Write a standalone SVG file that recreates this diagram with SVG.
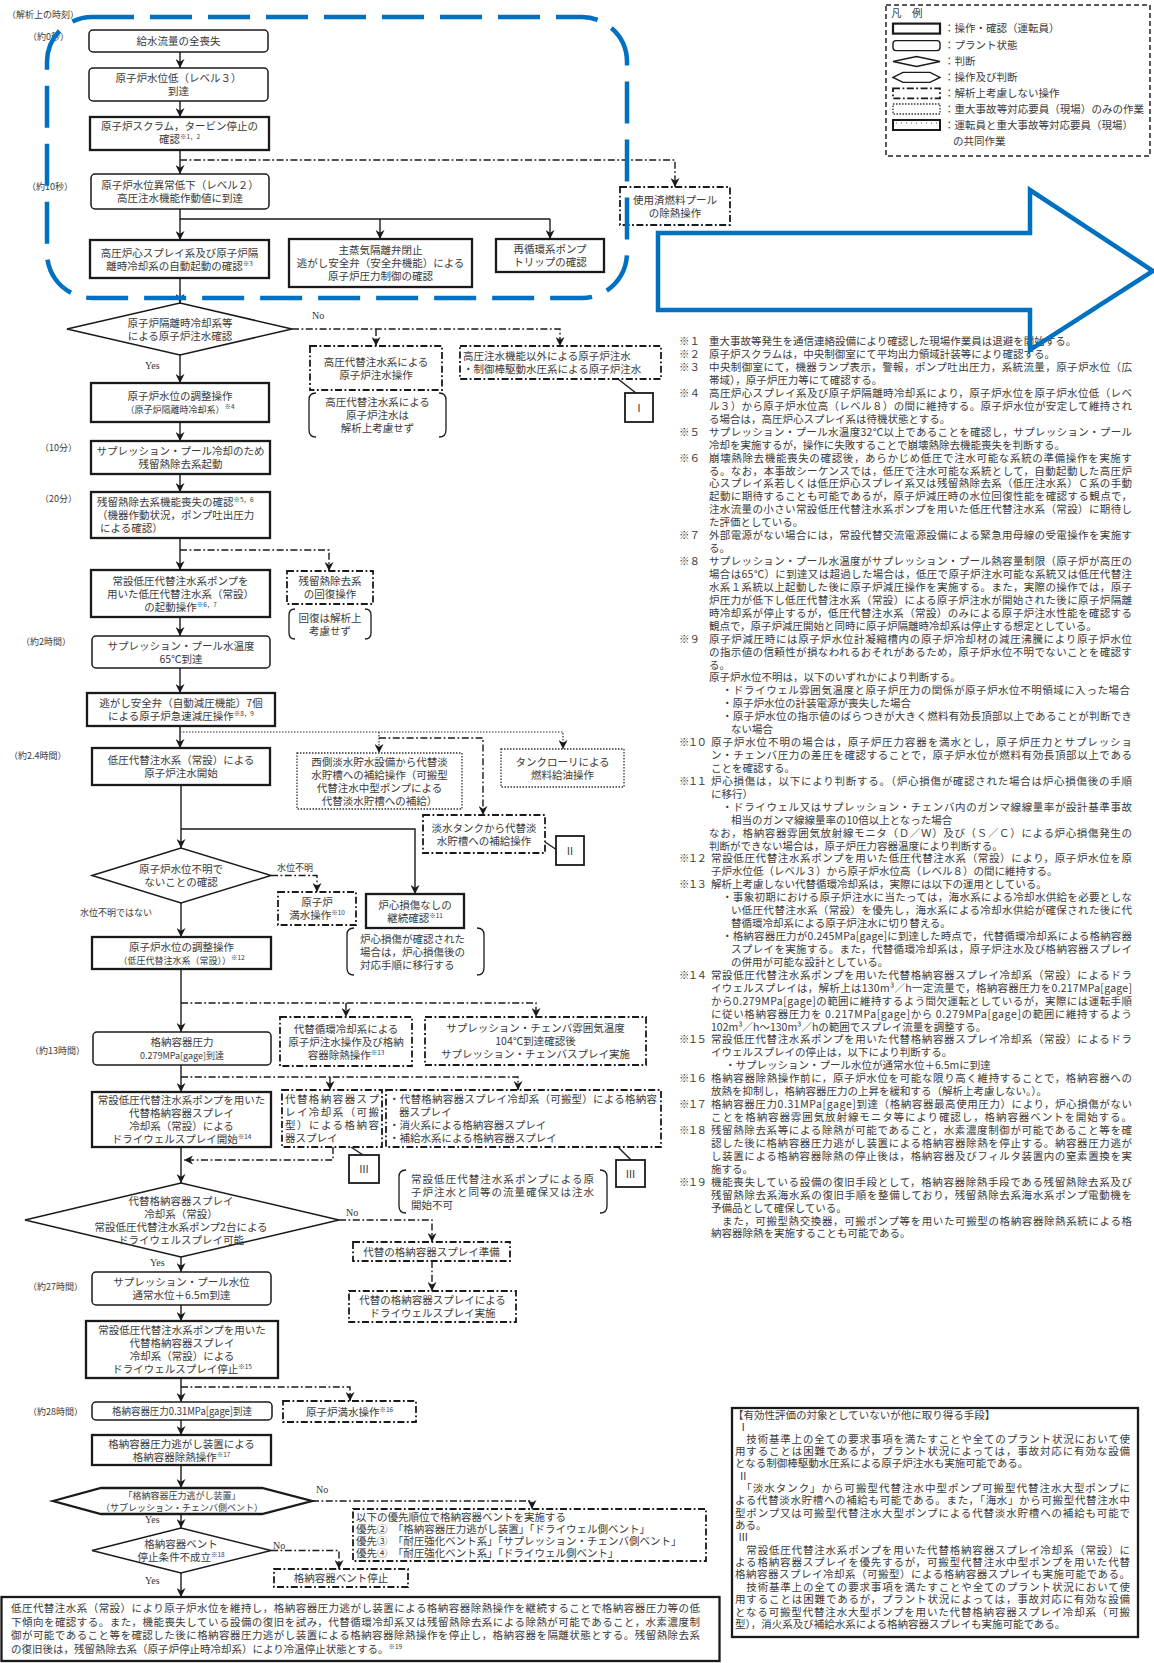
<svg xmlns="http://www.w3.org/2000/svg" width="1154" height="1663" viewBox="0 0 1154 1663">
<defs>
<style>
.t{font-family:"Noto Sans CJK JP","Noto Sans",sans-serif;font-size:10.5px;fill:#3a3a3a}
.c{text-anchor:middle}
.sm{font-size:9px}
.sup{font-size:6.5px}
.yn{font-family:"Liberation Serif",serif;font-size:10px;fill:#333}
.op{fill:#fff;stroke:#1a1a1a;stroke-width:2.3}
.ps{fill:#fff;stroke:#1a1a1a;stroke-width:1.5}
.dd{fill:#fff;stroke:#1a1a1a;stroke-width:1.8;stroke-dasharray:7 2.5 1.8 2.5}
.dt{fill:#fff;stroke:#333;stroke-width:1.3;stroke-dasharray:1.5 1.5}
.bk{fill:none;stroke:#1a1a1a;stroke-width:1.3}
.ln{fill:none;stroke:#1a1a1a;stroke-width:1.4}
.ldd{fill:none;stroke:#1a1a1a;stroke-width:1.4;stroke-dasharray:7 2.5 1.8 2.5}
.ldt{fill:none;stroke:#333;stroke-width:1.2;stroke-dasharray:1.5 1.5}
.blue{fill:none;stroke:#0070c0;stroke-width:4.5}
</style>
<marker id="ah" viewBox="0 0 10 10" refX="10" refY="5" markerWidth="9" markerHeight="9" markerUnits="userSpaceOnUse" orient="auto"><path d="M0,0 L10,5 L0,10 L3,5 z" fill="#1a1a1a"/></marker>
</defs>
<rect width="1154" height="1663" fill="#fff"/>

<g id="time-labels">
<text x="7" y="18" class="t sm">（解析上の時刻）</text>
<text x="28" y="40" class="t sm">（約0秒）</text>
<text x="27" y="190" class="t sm">（約10秒）</text>
<text x="40" y="451" class="t sm">（10分）</text>
<text x="40" y="502" class="t sm">（20分）</text>
<text x="21" y="645" class="t sm">（約2時間）</text>
<text x="9" y="759" class="t sm">（約2.4時間）</text>
<text x="30" y="1054" class="t sm">（約13時間）</text>
<text x="28" y="1290" class="t sm">（約27時間）</text>
<text x="28" y="1415" class="t sm">（約28時間）</text>
</g>

<g id="connectors">
<path class="ln" d="M180,52 V68" marker-end="url(#ah)"/>
<path class="ln" d="M180,101 V117" marker-end="url(#ah)"/>
<path class="ln" d="M180,150 V174" marker-end="url(#ah)"/>
<path class="ldd" d="M180,160 H675 V187" marker-end="url(#ah)"/>
<path class="ln" d="M180,209 V219 H550"/>
<path class="ln" d="M180,219 V240" marker-end="url(#ah)"/>
<path class="ln" d="M380,219 V239" marker-end="url(#ah)"/>
<path class="ln" d="M550,219 V239" marker-end="url(#ah)"/>
<path class="ln" d="M180,278 V303" marker-end="url(#ah)"/>
<path class="ldd" d="M292,329 H560 V346" marker-end="url(#ah)"/>
<path class="ldd" d="M376,329 V346" marker-end="url(#ah)"/>
<path class="ln" d="M618,379 L636,393"/>
<path class="ln" d="M180,355 V383" marker-end="url(#ah)"/>
<path class="ln" d="M180,422 V441" marker-end="url(#ah)"/>
<path class="ln" d="M180,474 V492" marker-end="url(#ah)"/>
<path class="ln" d="M180,538 V570" marker-end="url(#ah)"/>
<path class="ldd" d="M180,550 H329 V571" marker-end="url(#ah)"/>
<path class="ln" d="M180,617 V636" marker-end="url(#ah)"/>
<path class="ln" d="M180,668 V693" marker-end="url(#ah)"/>
<path class="ln" d="M180,726 V748" marker-end="url(#ah)"/>
<path class="ldt" d="M180,732 H563 V749" marker-end="url(#ah)"/>
<path class="ldt" d="M379,732 V753" marker-end="url(#ah)"/>
<path class="ldd" d="M379,738 H483 V815" marker-end="url(#ah)"/>
<path class="ln" d="M545,842 L557,850"/>
<path class="ln" d="M181,785 V848" marker-end="url(#ah)"/>
<path class="ln" d="M181,829 H415 V894" marker-end="url(#ah)"/>
<path class="ldd" d="M271,875.5 H317 V892" marker-end="url(#ah)"/>
<path class="ln" d="M181,903 V937" marker-end="url(#ah)"/>
<path class="ln" d="M181,969 V1032" marker-end="url(#ah)"/>
<path class="ldd" d="M181,1003 H536 V1017" marker-end="url(#ah)"/>
<path class="ldd" d="M346,1003 V1017" marker-end="url(#ah)"/>
<path class="ln" d="M181,1065 V1092" marker-end="url(#ah)"/>
<path class="ldd" d="M181,1077 H518 V1090" marker-end="url(#ah)"/>
<path class="ldd" d="M330,1077 V1090" marker-end="url(#ah)"/>
<path class="ldd" d="M333,1147 V1160 H184" marker-end="url(#ah)"/>
<path class="ln" d="M351,1147 L363,1155"/>
<path class="ln" d="M618,1147 L631,1160"/>
<path class="ln" d="M181,1147 V1183" marker-end="url(#ah)"/>
<path class="ldd" d="M339,1220 H432 V1242" marker-end="url(#ah)"/>
<path class="ldd" d="M432,1261 V1291" marker-end="url(#ah)"/>
<path class="ln" d="M181,1257 V1272" marker-end="url(#ah)"/>
<path class="ln" d="M181,1305 V1321" marker-end="url(#ah)"/>
<path class="ln" d="M181,1378 V1402" marker-end="url(#ah)"/>
<path class="ldd" d="M181,1387 H350 V1401" marker-end="url(#ah)"/>
<path class="ln" d="M181,1420 V1435" marker-end="url(#ah)"/>
<path class="ln" d="M181,1465 V1488" marker-end="url(#ah)"/>
<path class="ldd" d="M312,1501 H532 V1509" marker-end="url(#ah)"/>
<path class="ln" d="M181,1514 V1528" marker-end="url(#ah)"/>
<path class="ldd" d="M271,1550.5 H339 V1569" marker-end="url(#ah)"/>
<path class="ln" d="M181,1573 V1597" marker-end="url(#ah)"/>
</g>

<g id="yes-no">
<text class="yn" x="312" y="319">No</text>
<text class="yn" x="145" y="369">Yes</text>
<text class="t sm" x="277" y="871">水位不明</text>
<text class="t sm" x="80" y="916">水位不明ではない</text>
<text class="yn" x="346" y="1216">No</text>
<text class="yn" x="150" y="1266">Yes</text>
<text class="yn" x="316" y="1493">No</text>
<text class="yn" x="145" y="1523">Yes</text>
<text class="yn" x="273" y="1549">No</text>
<text class="yn" x="145" y="1584">Yes</text>
</g>

<g id="n1"><rect class="ps" x="89" y="30" width="179" height="22" rx="4"/><text class="t c" x="178.5" y="45">給水流量の全喪失</text></g>
<g id="n2"><rect class="ps" x="89" y="68" width="179" height="33" rx="4"/><text class="t c" x="178.5" y="82">原子炉水位低（レベル３）</text><text class="t c" x="178.5" y="95">到達</text></g>
<g id="n3"><rect class="op" x="90" y="117" width="179" height="33"/><text class="t c" x="179.5" y="130">原子炉スクラム，タービン停止の</text><text class="t c" x="179.5" y="143">確認<tspan class="sup" dy="-4">※1，2</tspan></text></g>
<g id="n-sfp"><rect class="dd" x="620" y="187" width="110" height="38"/><text class="t c" x="675" y="203.5">使用済燃料プール</text><text class="t c" x="675" y="216.5">の除熱操作</text></g>
<g id="n4"><rect class="ps" x="91" y="174" width="178" height="35" rx="4"/><text class="t c" x="180" y="189">原子炉水位異常低下（レベル２）</text><text class="t c" x="180" y="202">高圧注水機能作動値に到達</text></g>
<g id="n5"><rect class="op" x="90" y="240" width="179" height="38"/><text class="t c" x="179.5" y="256.5">高圧炉心スプレイ系及び原子炉隔</text><text class="t c" x="179.5" y="269.5">離時冷却系の自動起動の確認<tspan class="sup" dy="-4">※3</tspan></text></g>
<g id="n6"><rect class="op" x="289" y="239" width="183" height="48"/><text class="t c" x="380.5" y="254">主蒸気隔離弁閉止</text><text class="t c" x="380.5" y="267">逃がし安全弁（安全弁機能）による</text><text class="t c" x="380.5" y="280">原子炉圧力制御の確認</text></g>
<g id="n7"><rect class="op" x="496" y="239" width="108" height="33"/><text class="t c" x="550" y="253">再循環系ポンプ</text><text class="t c" x="550" y="266">トリップの確認</text></g>

<g id="d1"><polygon class="ps" points="67,329 180,303 292,329 180,355"/><text class="t c" x="180" y="326.5">原子炉隔離時冷却系等</text><text class="t c" x="180" y="339.5">による原子炉注水確認</text></g>
<g id="n8"><rect class="dd" x="310" y="346" width="132" height="44"/><text class="t c" x="376" y="365.5">高圧代替注水系による</text><text class="t c" x="376" y="378.5">原子炉注水操作</text></g>
<g id="b1"><path class="bk" d="M316,393 Q309,393 309,400 V430 Q309,437 316,437"/><path class="bk" d="M439,393 Q446,393 446,400 V430 Q446,437 439,437"/><text class="t c" x="377.5" y="406">高圧代替注水系による</text><text class="t c" x="377.5" y="419">原子炉注水は</text><text class="t c" x="377.5" y="432">解析上考慮せず</text></g>
<g id="n9"><rect class="dd" x="460" y="346" width="201" height="33"/><text class="t" x="463" y="360">高圧注水機能以外による原子炉注水</text><text class="t" x="463" y="373">・制御棒駆動水圧系による原子炉注水</text></g>
<g id="r1"><rect fill="#fff" stroke="#1a1a1a" stroke-width="1.8" x="625" y="393" width="28" height="29"/><text class="t c" x="639" y="411.5">Ⅰ</text></g>
<g id="n10"><rect class="op" x="91" y="383" width="178" height="39"/><text class="t c" x="180" y="400">原子炉水位の調整操作</text><text class="t c sm" x="180" y="413">（原子炉隔離時冷却系）<tspan class="sup" dy="-4">※4</tspan></text></g>
<g id="n11"><rect class="op" x="91" y="441" width="179" height="33"/><text class="t c" x="180.5" y="455">サプレッション・プール冷却のため</text><text class="t c" x="180.5" y="468">残留熱除去系起動</text></g>
<g id="n12"><rect class="op" x="91" y="492" width="179" height="46"/><text class="t" x="97" y="506">残留熱除去系機能喪失の確認<tspan class="sup" dy="-4">※5，6</tspan></text><text class="t" x="97" y="519">（機器作動状況，ポンプ吐出圧力</text><text class="t" x="100" y="532">による確認）</text></g>
<g id="n13"><rect class="op" x="91" y="570" width="179" height="47"/><text class="t c" x="180.5" y="584.5">常設低圧代替注水系ポンプを</text><text class="t c" x="180.5" y="597.5">用いた低圧代替注水系（常設）</text><text class="t c" x="180.5" y="610.5">の起動操作<tspan class="sup" dy="-4">※6，7</tspan></text></g>
<g id="n14"><rect class="dd" x="287" y="571" width="86" height="33"/><text class="t c" x="330" y="585">残留熱除去系</text><text class="t c" x="330" y="598">の回復操作</text></g>
<g id="b2"><path class="bk" d="M295,609 Q289,609 289,615 V633 Q289,639 295,639"/><path class="bk" d="M365,609 Q371,609 371,615 V633 Q371,639 365,639"/><text class="t c" x="330" y="621.5">回復は解析上</text><text class="t c" x="330" y="634.5">考慮せず</text></g>
<g id="n15"><rect class="ps" x="92" y="636" width="178" height="32" rx="4"/><text class="t c" x="181" y="649.5">サプレッション・プール水温度</text><text class="t c" x="181" y="662.5">65℃到達</text></g>
<g id="n16"><rect class="op" x="87" y="693" width="188" height="33"/><text class="t c" x="181" y="707">逃がし安全弁（自動減圧機能）7個</text><text class="t c" x="181" y="720">による原子炉急速減圧操作<tspan class="sup" dy="-4">※8，9</tspan></text></g>
<g id="n17"><rect class="op" x="92" y="748" width="178" height="37"/><text class="t c" x="181" y="764">低圧代替注水系（常設）による</text><text class="t c" x="181" y="777">原子炉注水開始</text></g>
<g id="n18"><rect class="dt" x="297" y="753" width="165" height="56"/><text class="t c" x="379.5" y="765.5">西側淡水貯水設備から代替淡</text><text class="t c" x="379.5" y="778.5">水貯槽への補給操作（可搬型</text><text class="t c" x="379.5" y="791.5">代替注水中型ポンプによる</text><text class="t c" x="379.5" y="804.5">代替淡水貯槽への補給）</text></g>
<g id="n19"><rect class="dt" x="501" y="749" width="123" height="38"/><text class="t c" x="562.5" y="765.5">タンクローリによる</text><text class="t c" x="562.5" y="778.5">燃料給油操作</text></g>
<g id="n20"><rect class="dd" x="423" y="815" width="122" height="38"/><text class="t c" x="484" y="831.5">淡水タンクから代替淡</text><text class="t c" x="484" y="844.5">水貯槽への補給操作</text></g>
<g id="r2"><rect fill="#fff" stroke="#1a1a1a" stroke-width="1.8" x="556" y="836" width="28" height="29"/><text class="t c" x="570" y="854.5">Ⅱ</text></g>
<g id="d2"><polygon class="ps" points="92,875.5 181,848 271,875.5 181,903"/><text class="t c" x="181" y="873">原子炉水位不明で</text><text class="t c" x="181" y="886">ないことの確認</text></g>
<g id="n21"><rect class="dd" x="278" y="892" width="78" height="33"/><text class="t c" x="317" y="906">原子炉</text><text class="t c" x="317" y="919">満水操作<tspan class="sup" dy="-4">※10</tspan></text></g>
<g id="n22"><rect class="op" x="366" y="894" width="98" height="34"/><text class="t c" x="415" y="908.5">炉心損傷なしの</text><text class="t c" x="415" y="921.5">継続確認<tspan class="sup" dy="-4">※11</tspan></text></g>
<g id="b3"><path class="bk" d="M354,928 Q347,928 347,935 V968 Q347,975 354,975"/><path class="bk" d="M477,928 Q484,928 484,935 V968 Q484,975 477,975"/><text class="t" x="360" y="942.5">炉心損傷が確認された</text><text class="t" x="360" y="955.5">場合は，炉心損傷後の</text><text class="t" x="360" y="968.5">対応手順に移行する</text></g>
<g id="n23"><rect class="op" x="92" y="937" width="179" height="32"/><text class="t c" x="181.5" y="950.5">原子炉水位の調整操作</text><text class="t c sm" x="181.5" y="963.5">（低圧代替注水系（常設））<tspan class="sup" dy="-4">※12</tspan></text></g>
<g id="n24"><rect class="ps" x="93" y="1032" width="178" height="33" rx="4"/><text class="t c" x="182" y="1046">格納容器圧力</text><text class="t c sm" x="182" y="1059">0.279MPa[gage]到達</text></g>
<g id="n25"><rect class="dd" x="280" y="1017" width="132" height="49"/><text class="t c" x="346" y="1032.5">代替循環冷却系による</text><text class="t c" x="346" y="1045.5">原子炉注水操作及び格納</text><text class="t c" x="346" y="1058.5">容器除熱操作<tspan class="sup" dy="-4">※13</tspan></text></g>
<g id="n26"><rect class="dd" x="425" y="1017" width="221" height="48"/><text class="t c" x="535.5" y="1032">サプレッション・チェンバ雰囲気温度</text><text class="t c" x="535.5" y="1045">104℃到達確認後</text><text class="t c" x="535.5" y="1058">サプレッション・チェンバスプレイ実施</text></g>
<g id="n27"><rect class="op" x="92" y="1092" width="179" height="55"/><text class="t c" x="181.5" y="1104">常設低圧代替注水系ポンプを用いた</text><text class="t c" x="181.5" y="1117">代替格納容器スプレイ</text><text class="t c" x="181.5" y="1130">冷却系（常設）による</text><text class="t c" x="181.5" y="1143">ドライウェルスプレイ開始<tspan class="sup" dy="-4">※14</tspan></text></g>
<g id="n28"><rect class="dd" x="282" y="1090" width="100" height="57"/><text class="t" x="285" y="1103" textLength="94" lengthAdjust="spacing">代替格納容器スプ</text><text class="t" x="285" y="1116" textLength="94" lengthAdjust="spacing">レイ冷却系（可搬</text><text class="t" x="285" y="1129" textLength="94" lengthAdjust="spacing">型）による格納容</text><text class="t" x="285" y="1142">器スプレイ</text></g>
<g id="n29"><rect class="dd" x="386" y="1090" width="275" height="57"/><text class="t" x="389" y="1103" textLength="268" lengthAdjust="spacing">・代替格納容器スプレイ冷却系（可搬型）による格納容</text><text class="t" x="399" y="1116">器スプレイ</text><text class="t" x="389" y="1129">・消火系による格納容器スプレイ</text><text class="t" x="389" y="1142">・補給水系による格納容器スプレイ</text></g>
<g id="r3a"><rect fill="#fff" stroke="#1a1a1a" stroke-width="1.8" x="349" y="1155" width="30" height="28"/><text class="t c" x="364" y="1173">Ⅲ</text></g>
<g id="r3b"><rect fill="#fff" stroke="#1a1a1a" stroke-width="1.8" x="616" y="1160" width="29" height="27"/><text class="t c" x="630.5" y="1177.5">Ⅲ</text></g>
<g id="d3"><polygon class="ps" points="25,1220 181,1183 339,1220 181,1257"/><text class="t c" x="181" y="1205">代替格納容器スプレイ</text><text class="t c" x="181" y="1218">冷却系（常設）</text><text class="t c" x="181" y="1231">常設低圧代替注水系ポンプ2台による</text><text class="t c" x="181" y="1244">ドライウェルスプレイ可能</text></g>
<g id="b4"><path class="bk" d="M406,1170 Q399,1170 399,1177 V1206 Q399,1213 406,1213"/><path class="bk" d="M600,1170 Q607,1170 607,1177 V1206 Q607,1213 600,1213"/><text class="t" x="411" y="1182.5" textLength="183" lengthAdjust="spacing">常設低圧代替注水系ポンプによる原</text><text class="t" x="411" y="1195.5" textLength="183" lengthAdjust="spacing">子炉注水と同等の流量確保又は注水</text><text class="t" x="411" y="1208.5">開始不可</text></g>
<g id="n30"><rect class="dd" x="353" y="1242" width="157" height="19"/><text class="t c" x="431.5" y="1255.5">代替の格納容器スプレイ準備</text></g>
<g id="n31"><rect class="dd" x="349" y="1291" width="167" height="31"/><text class="t c" x="432.5" y="1304">代替の格納容器スプレイによる</text><text class="t c" x="432.5" y="1317">ドライウェルスプレイ実施</text></g>
<g id="n32"><rect class="ps" x="92" y="1272" width="179" height="33" rx="4"/><text class="t c" x="181.5" y="1286">サプレッション・プール水位</text><text class="t c" x="181.5" y="1299">通常水位＋6.5m到達</text></g>
<g id="n33"><rect class="op" x="86" y="1321" width="192" height="57"/><text class="t c" x="182" y="1334">常設低圧代替注水系ポンプを用いた</text><text class="t c" x="182" y="1347">代替格納容器スプレイ</text><text class="t c" x="182" y="1360">冷却系（常設）による</text><text class="t c" x="182" y="1373">ドライウェルスプレイ停止<tspan class="sup" dy="-4">※15</tspan></text></g>
<g id="n34"><rect class="ps" x="92" y="1402" width="180" height="18" rx="4"/><text class="t c" x="182" y="1415" textLength="140" lengthAdjust="spacingAndGlyphs">格納容器圧力0.31MPa[gage]到達</text></g>
<g id="n35"><rect class="dd" x="283" y="1401" width="133" height="21"/><text class="t c" x="349.5" y="1415.5">原子炉満水操作<tspan class="sup" dy="-4">※16</tspan></text></g>
<g id="n36"><rect class="op" x="92" y="1435" width="179" height="30"/><text class="t c" x="181.5" y="1447.5">格納容器圧力逃がし装置による</text><text class="t c" x="181.5" y="1460.5">格納容器除熱操作<tspan class="sup" dy="-4">※17</tspan></text></g>
<g id="h1"><polygon class="op" points="53,1501 101,1488 262,1488 312,1501 262,1514 101,1514"/><text class="t c sm" x="182" y="1498.5">「格納容器圧力逃がし装置」</text><text class="t c sm" x="182" y="1510.5">（サプレッション・チェンバ側ベント）</text></g>
<g id="n37"><rect class="dd" x="353" y="1509" width="353" height="52"/><text class="t" x="356" y="1521">以下の優先順位で格納容器ベントを実施する</text><text class="t" x="356" y="1533">優先②　「格納容器圧力逃がし装置」「ドライウェル側ベント」</text><text class="t" x="356" y="1545">優先③　「耐圧強化ベント系」「サプレッション・チェンバ側ベント」</text><text class="t" x="356" y="1557">優先④　「耐圧強化ベント系」「ドライウェル側ベント」</text></g>
<g id="d4"><polygon class="ps" points="92,1550.5 181,1528 271,1550.5 181,1573"/><text class="t c" x="181" y="1548">格納容器ベント</text><text class="t c" x="181" y="1561">停止条件不成立<tspan class="sup" dy="-4">※18</tspan></text></g>
<g id="n38"><rect class="dd" x="274" y="1569" width="134" height="18"/><text class="t c" x="341" y="1582">格納容器ベント停止</text></g>
<g id="n39"><rect class="op" x="1.5" y="1597" width="718" height="64"/>
<text class="t" x="11" y="1612" textLength="689" lengthAdjust="spacing">低圧代替注水系（常設）により原子炉水位を維持し，格納容器圧力逃がし装置による格納容器除熱操作を継続することで格納容器圧力等の低</text>
<text class="t" x="11" y="1626" textLength="689" lengthAdjust="spacing">下傾向を確認する。また，機能喪失している設備の復旧を試み，代替循環冷却系又は残留熱除去系による除熱が可能であること，水素濃度制</text>
<text class="t" x="11" y="1639" textLength="689" lengthAdjust="spacing">御が可能であること等を確認した後に格納容器圧力逃がし装置による格納容器除熱操作を停止し，格納容器を隔離状態とする。残留熱除去系</text>
<text class="t" x="11" y="1653">の復旧後は，残留熱除去系（原子炉停止時冷却系）により冷温停止状態とする。<tspan class="sup" dy="-4">※19</tspan></text></g>

<g id="legend">
<rect x="886" y="5" width="264" height="151" fill="#fff" stroke="#222" stroke-width="1.5" stroke-dasharray="5 3"/>
<text class="t" x="891" y="17">凡　例</text>
<rect x="893" y="23.6" width="47" height="10" fill="#fff" stroke="#1a1a1a" stroke-width="2.2"/>
<rect x="893" y="40.6" width="47" height="10" rx="3" fill="#fff" stroke="#1a1a1a" stroke-width="1.4"/>
<polygon points="893,61.5 916.5,56.5 940,61.5 916.5,66.5" fill="#fff" stroke="#1a1a1a" stroke-width="1.4"/>
<polygon points="893,77.4 903,72.4 930,72.4 940,77.4 930,82.4 903,82.4" fill="#fff" stroke="#1a1a1a" stroke-width="1.4"/>
<rect x="893" y="88.3" width="47" height="10" class="dd"/>
<rect x="893" y="104" width="47" height="10" class="dt"/>
<rect x="893" y="120" width="47" height="10" fill="#fff" stroke="#1a1a1a" stroke-width="2"/>
<line x1="896" y1="123" x2="937" y2="123" stroke="#555" stroke-width="1" stroke-dasharray="1 4"/>
<text class="t" x="944" y="32.3">：操作・確認（運転員）</text>
<text class="t" x="944" y="49.3">：プラント状態</text>
<text class="t" x="944" y="65.2">：判断</text>
<text class="t" x="944" y="81.1">：操作及び判断</text>
<text class="t" x="944" y="97">：解析上考慮しない操作</text>
<text class="t" x="944" y="112.7" textLength="200" lengthAdjust="spacing">：重大事故等対応要員（現場）のみの作業</text>
<text class="t" x="944" y="128.7">：運転員と重大事故等対応要員（現場）</text>
<text class="t" x="953" y="144.7">の共同作業</text>
</g>

<g id="notes">
<text class="t" x="679" y="345.2">※１</text><text class="t" x="709" y="345.2">重大事故等発生を通信連絡設備により確認した現場作業員は退避を開始する。</text>
<text class="t" x="679" y="358.1">※２</text><text class="t" x="709" y="358.1">原子炉スクラムは，中央制御室にて平均出力領域計装等により確認する。</text>
<text class="t" x="679" y="371.1">※３</text><text class="t" x="709" y="371.1" textLength="423" lengthAdjust="spacing">中央制御室にて，機器ランプ表示，警報，ポンプ吐出圧力，系統流量，原子炉水位（広</text>
<text class="t" x="709" y="384">帯域），原子炉圧力等にて確認する。</text>
<text class="t" x="679" y="396.9">※４</text><text class="t" x="709" y="396.9" textLength="423" lengthAdjust="spacing">高圧炉心スプレイ系及び原子炉隔離時冷却系により，原子炉水位を原子炉水位低（レベ</text>
<text class="t" x="709" y="409.9" textLength="423" lengthAdjust="spacing">ル３）から原子炉水位高（レベル８）の間に維持する。原子炉水位が安定して維持され</text>
<text class="t" x="709" y="422.8">る場合は，高圧炉心スプレイ系は待機状態とする。</text>
<text class="t" x="679" y="435.7">※５</text><text class="t" x="709" y="435.7" textLength="423" lengthAdjust="spacing">サプレッション・プール水温度32℃以上であることを確認し，サプレッション・プール</text>
<text class="t" x="709" y="448.6">冷却を実施するが，操作に失敗することで崩壊熱除去機能喪失を判断する。</text>
<text class="t" x="679" y="461.6">※６</text><text class="t" x="709" y="461.6" textLength="423" lengthAdjust="spacing">崩壊熱除去機能喪失の確認後，あらかじめ低圧で注水可能な系統の準備操作を実施す</text>
<text class="t" x="709" y="474.5" textLength="423" lengthAdjust="spacing">る。なお，本事故シーケンスでは，低圧で注水可能な系統として，自動起動した高圧炉</text>
<text class="t" x="709" y="487.4" textLength="423" lengthAdjust="spacing">心スプレイ系若しくは低圧炉心スプレイ系又は残留熱除去系（低圧注水系）Ｃ系の手動</text>
<text class="t" x="709" y="500.4" textLength="423" lengthAdjust="spacing">起動に期待することも可能であるが，原子炉減圧時の水位回復性能を確認する観点で，</text>
<text class="t" x="709" y="513.3" textLength="423" lengthAdjust="spacing">注水流量の小さい常設低圧代替注水系ポンプを用いた低圧代替注水系（常設）に期待し</text>
<text class="t" x="709" y="526.2">た評価としている。</text>
<text class="t" x="679" y="539.2">※７</text><text class="t" x="709" y="539.2" textLength="423" lengthAdjust="spacing">外部電源がない場合には，常設代替交流電源設備による緊急用母線の受電操作を実施す</text>
<text class="t" x="709" y="552.1">る。</text>
<text class="t" x="679" y="565">※８</text><text class="t" x="709" y="565" textLength="423" lengthAdjust="spacing">サプレッション・プール水温度がサプレッション・プール熱容量制限（原子炉が高圧の</text>
<text class="t" x="709" y="578" textLength="423" lengthAdjust="spacing">場合は65℃）に到達又は超過した場合は，低圧で原子炉注水可能な系統又は低圧代替注</text>
<text class="t" x="709" y="590.9" textLength="423" lengthAdjust="spacing">水系１系統以上起動した後に原子炉減圧操作を実施する。また，実際の操作では，原子</text>
<text class="t" x="709" y="603.8" textLength="423" lengthAdjust="spacing">炉圧力が低下し低圧代替注水系（常設）による原子炉注水が開始された後に原子炉隔離</text>
<text class="t" x="709" y="616.7" textLength="423" lengthAdjust="spacing">時冷却系が停止するが，低圧代替注水系（常設）のみによる原子炉注水性能を確認する</text>
<text class="t" x="709" y="629.7">観点で，原子炉減圧開始と同時に原子炉隔離時冷却系は停止する想定としている。</text>
<text class="t" x="679" y="642.6">※９</text><text class="t" x="709" y="642.6" textLength="423" lengthAdjust="spacing">原子炉減圧時には原子炉水位計凝縮槽内の原子炉冷却材の減圧沸騰により原子炉水位</text>
<text class="t" x="709" y="655.5" textLength="423" lengthAdjust="spacing">の指示値の信頼性が損なわれるおそれがあるため，原子炉水位不明でないことを確認す</text>
<text class="t" x="709" y="668.5">る。</text>
<text class="t" x="709" y="681.4">原子炉水位不明は，以下のいずれかにより判断する。</text>
<text class="t" x="722" y="694.3" textLength="408" lengthAdjust="spacing">・ドライウェル雰囲気温度と原子炉圧力の関係が原子炉水位不明領域に入った場合</text>
<text class="t" x="722" y="707.3">・原子炉水位の計装電源が喪失した場合</text>
<text class="t" x="722" y="720.2" textLength="410" lengthAdjust="spacing">・原子炉水位の指示値のばらつきが大きく燃料有効長頂部以上であることが判断でき</text>
<text class="t" x="731" y="733.1">ない場合</text>
<text class="t" x="679" y="746" textLength="28" lengthAdjust="spacing">※１０</text><text class="t" x="711" y="746" textLength="421" lengthAdjust="spacing">原子炉水位不明の場合は，原子炉圧力容器を満水とし，原子炉圧力とサプレッショ</text>
<text class="t" x="711" y="759" textLength="421" lengthAdjust="spacing">ン・チェンバ圧力の差圧を確認することで，原子炉水位が燃料有効長頂部以上である</text>
<text class="t" x="711" y="771.9">ことを確認する。</text>
<text class="t" x="679" y="784.8" textLength="28" lengthAdjust="spacing">※１１</text><text class="t" x="711" y="784.8" textLength="421" lengthAdjust="spacing">炉心損傷は，以下により判断する。（炉心損傷が確認された場合は炉心損傷後の手順</text>
<text class="t" x="711" y="797.8">に移行）</text>
<text class="t" x="722" y="810.7" textLength="410" lengthAdjust="spacing">・ドライウェル又はサプレッション・チェンバ内のガンマ線線量率が設計基準事故</text>
<text class="t" x="731" y="823.6">相当のガンマ線線量率の10倍以上となった場合</text>
<text class="t" x="709" y="836.6" textLength="423" lengthAdjust="spacing">なお，格納容器雰囲気放射線モニタ（Ｄ／Ｗ）及び（Ｓ／Ｃ）による炉心損傷発生の</text>
<text class="t" x="709" y="849.5">判断ができない場合は，原子炉圧力容器温度により判断する。</text>
<text class="t" x="679" y="862.4" textLength="28" lengthAdjust="spacing">※１２</text><text class="t" x="711" y="862.4" textLength="421" lengthAdjust="spacing">常設低圧代替注水系ポンプを用いた低圧代替注水系（常設）により，原子炉水位を原</text>
<text class="t" x="711" y="875.3">子炉水位低（レベル３）から原子炉水位高（レベル８）の間に維持する。</text>
<text class="t" x="679" y="888.3" textLength="28" lengthAdjust="spacing">※１３</text><text class="t" x="711" y="888.3">解析上考慮しない代替循環冷却系は，実際には以下の運用としている。</text>
<text class="t" x="722" y="901.2" textLength="410" lengthAdjust="spacing">・事象初期における原子炉注水に当たっては，海水系による冷却水供給を必要としな</text>
<text class="t" x="731" y="914.1" textLength="401" lengthAdjust="spacing">い低圧代替注水系（常設）を優先し，海水系による冷却水供給が確保された後に代</text>
<text class="t" x="731" y="927.1">替循環冷却系による原子炉注水に切り替える。</text>
<text class="t" x="722" y="940" textLength="410" lengthAdjust="spacing">・格納容器圧力が0.245MPa[gage]に到達した時点で，代替循環冷却系による格納容器</text>
<text class="t" x="731" y="952.9" textLength="401" lengthAdjust="spacing">スプレイを実施する。また，代替循環冷却系は，原子炉注水及び格納容器スプレイ</text>
<text class="t" x="731" y="965.9">の併用が可能な設計としている。</text>
<text class="t" x="679" y="978.8" textLength="28" lengthAdjust="spacing">※１４</text><text class="t" x="711" y="978.8" textLength="421" lengthAdjust="spacing">常設低圧代替注水系ポンプを用いた代替格納容器スプレイ冷却系（常設）によるドラ</text>
<text class="t" x="711" y="991.7" textLength="421" lengthAdjust="spacing">イウェルスプレイは，解析上は130m³／h一定流量で，格納容器圧力を0.217MPa[gage]</text>
<text class="t" x="711" y="1004.6" textLength="421" lengthAdjust="spacing">から0.279MPa[gage]の範囲に維持するよう間欠運転としているが，実際には運転手順</text>
<text class="t" x="711" y="1017.6" textLength="421" lengthAdjust="spacing">に従い格納容器圧力を 0.217MPa[gage]から 0.279MPa[gage]の範囲に維持するよう</text>
<text class="t" x="711" y="1030.5">102m³／h～130m³／hの範囲でスプレイ流量を調整する。</text>
<text class="t" x="679" y="1043.4" textLength="28" lengthAdjust="spacing">※１５</text><text class="t" x="711" y="1043.4" textLength="421" lengthAdjust="spacing">常設低圧代替注水系ポンプを用いた代替格納容器スプレイ冷却系（常設）によるドラ</text>
<text class="t" x="711" y="1056.4">イウェルスプレイの停止は，以下により判断する。</text>
<text class="t" x="725" y="1069.3">・サプレッション・プール水位が通常水位＋6.5mに到達</text>
<text class="t" x="679" y="1082.2" textLength="28" lengthAdjust="spacing">※１６</text><text class="t" x="711" y="1082.2" textLength="421" lengthAdjust="spacing">格納容器除熱操作前に，原子炉水位を可能な限り高く維持することで，格納容器への</text>
<text class="t" x="711" y="1095.2">放熱を抑制し，格納容器圧力の上昇を緩和する（解析上考慮しない。）。</text>
<text class="t" x="679" y="1108.1" textLength="28" lengthAdjust="spacing">※１７</text><text class="t" x="711" y="1108.1" textLength="421" lengthAdjust="spacing">格納容器圧力0.31MPa[gage]到達（格納容器最高使用圧力）により，炉心損傷がない</text>
<text class="t" x="711" y="1121" textLength="421" lengthAdjust="spacing">ことを格納容器雰囲気放射線モニタ等により確認し，格納容器ベントを開始する。</text>
<text class="t" x="679" y="1133.9" textLength="28" lengthAdjust="spacing">※１８</text><text class="t" x="711" y="1133.9" textLength="421" lengthAdjust="spacing">残留熱除去系等による除熱が可能であること，水素濃度制御が可能であること等を確</text>
<text class="t" x="711" y="1146.9" textLength="421" lengthAdjust="spacing">認した後に格納容器圧力逃がし装置による格納容器除熱を停止する。納容器圧力逃が</text>
<text class="t" x="711" y="1159.8" textLength="421" lengthAdjust="spacing">し装置による格納容器除熱の停止後は，格納容器及びフィルタ装置内の窒素置換を実</text>
<text class="t" x="711" y="1172.7">施する。</text>
<text class="t" x="679" y="1185.7" textLength="28" lengthAdjust="spacing">※１９</text><text class="t" x="711" y="1185.7" textLength="421" lengthAdjust="spacing">機能喪失している設備の復旧手段として，格納容器除熱手段である残留熱除去系及び</text>
<text class="t" x="711" y="1198.6" textLength="421" lengthAdjust="spacing">残留熱除去系海水系の復旧手順を整備しており，残留熱除去系海水系ポンプ電動機を</text>
<text class="t" x="711" y="1211.5">予備品として確保している。</text>
<text class="t" x="711" y="1224.5" textLength="421" lengthAdjust="spacing">　また，可搬型熱交換器，可搬ポンプ等を用いた可搬型の格納容器除熱系統による格</text>
<text class="t" x="711" y="1237.4">納容器除熱を実施することも可能である。</text>
</g>

<g id="other-means">
<rect x="732" y="1408" width="406" height="229" fill="#fff" stroke="#1a1a1a" stroke-width="2.3"/>
<text class="t" x="733" y="1419">【有効性評価の対象としていないが他に取り得る手段】</text>
<text class="t" x="738" y="1431">Ⅰ</text>
<text class="t" x="735" y="1443" textLength="395" lengthAdjust="spacing">　技術基準上の全ての要求事項を満たすことや全てのプラント状況において使</text>
<text class="t" x="735" y="1455" textLength="395" lengthAdjust="spacing">用することは困難であるが，プラント状況によっては，事故対応に有効な設備</text>
<text class="t" x="735" y="1467">となる制御棒駆動水圧系による原子炉注水も実施可能である。</text>
<text class="t" x="738" y="1480">Ⅱ</text>
<text class="t" x="735" y="1492" textLength="395" lengthAdjust="spacing">　「淡水タンク」から可搬型代替注水中型ポンプ可搬型代替注水大型ポンプに</text>
<text class="t" x="735" y="1504" textLength="395" lengthAdjust="spacing">よる代替淡水貯槽への補給も可能である。また，「海水」から可搬型代替注水中</text>
<text class="t" x="735" y="1517" textLength="395" lengthAdjust="spacing">型ポンプ又は可搬型代替注水大型ポンプによる代替淡水貯槽への補給も可能で</text>
<text class="t" x="735" y="1529">ある。</text>
<text class="t" x="738" y="1541">Ⅲ</text>
<text class="t" x="735" y="1554" textLength="395" lengthAdjust="spacing">　常設低圧代替注水系ポンプを用いた代替格納容器スプレイ冷却系（常設）に</text>
<text class="t" x="735" y="1566" textLength="395" lengthAdjust="spacing">よる格納容器スプレイを優先するが，可搬型代替注水中型ポンプを用いた代替</text>
<text class="t" x="735" y="1578" textLength="395" lengthAdjust="spacing">格納容器スプレイ冷却系（可搬型）による格納容器スプレイも実施可能である。</text>
<text class="t" x="735" y="1591" textLength="395" lengthAdjust="spacing">　技術基準上の全ての要求事項を満たすことや全てのプラント状況において使</text>
<text class="t" x="735" y="1603" textLength="395" lengthAdjust="spacing">用することは困難であるが，プラント状況によっては，事故対応に有効な設備</text>
<text class="t" x="735" y="1616" textLength="395" lengthAdjust="spacing">となる可搬型代替注水大型ポンプを用いた代替格納容器スプレイ冷却系（可搬</text>
<text class="t" x="735" y="1628">型），消火系及び補給水系による格納容器スプレイも実施可能である。</text>
</g>

<g id="highlight">
<rect class="blue" x="47" y="17" width="580" height="281" rx="45" ry="45" stroke-dasharray="42 16"/>
<polygon class="blue" points="658,233 1030,233 1030,190 1153,271 1030,350 1030,310 658,310"/>
</g>
</svg>
